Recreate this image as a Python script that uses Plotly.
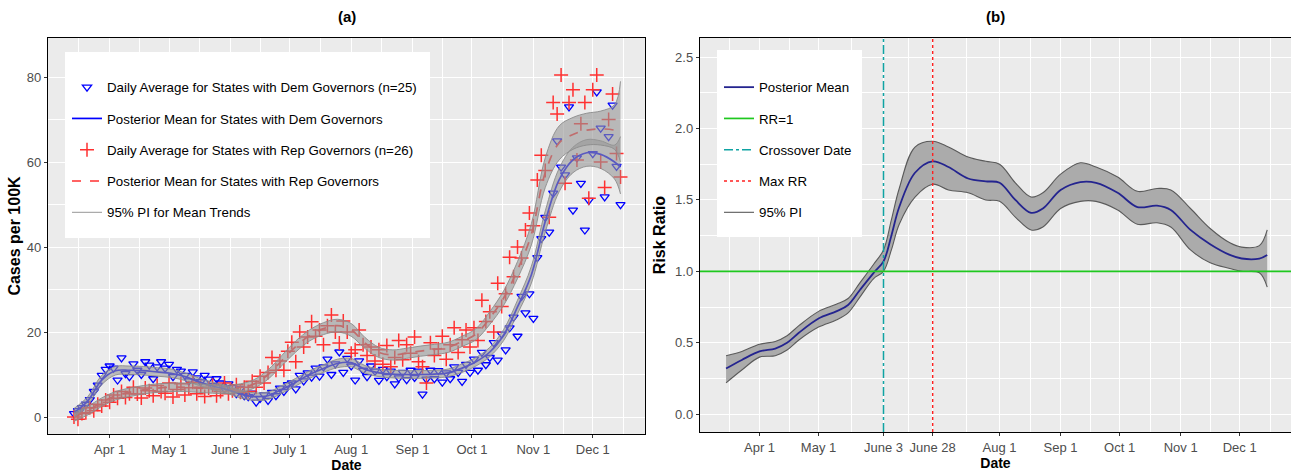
import pandas as pd
import plotly.graph_objects as go

# ---------- panel (a): cases per 100K ----------
# daily averages, read every second day starting 2020-03-14
obs_start = "2020-03-14"
obs_step_days = 2
dem_daily = [
    0.8, 1.5, 2.2, 3.0, 4.1, 6.0, 7.5, 9.8, 11.2,                                      # Mar
    12.0, 11.5, 8.7, 13.9, 10.2, 9.5, 12.5, 11.0, 10.0, 13.0, 12.2, 9.0, 11.8, 13.0, 11.5,  # Apr
    12.4, 9.5, 11.2, 10.8, 9.8, 8.5, 10.6, 9.2, 8.3, 9.8, 8.9, 7.4, 9.0, 8.0, 6.6, 7.8,     # May
    6.9, 5.5, 6.6, 5.0, 4.8, 5.6, 3.5, 4.4, 5.2, 3.9, 5.8, 5.0, 6.8, 6.0, 7.6,          # Jun
    8.0, 6.6, 9.8, 8.5, 10.4, 9.4, 11.5, 9.6, 11.8, 13.6, 10.0, 12.5, 15.3, 10.5, 13.8,  # Jul
    12.0, 8.7, 13.2, 11.0, 9.5, 12.0, 10.8, 8.6, 11.2, 9.5, 10.8, 7.8, 9.2, 10.5, 8.8, 11.0,  # Aug
    9.3, 10.8, 5.4, 8.9, 11.0, 9.0, 10.9, 8.2, 10.4, 9.0, 11.8, 10.5, 8.4, 12.4, 10.5,   # Sep
    13.6, 11.0, 15.2, 12.3, 14.0, 17.5, 13.4, 19.5, 15.8, 21.0, 23.5, 19.0, 28.4, 24.5, 29.0,  # Oct
    23.2, 37.5, 42.0, 47.0, 43.5, 52.7, 65.0, 58.8, 57.0, 73.0, 48.7, 61.0, 55.0, 44.0, 51.0,  # Nov
    62.0, 76.5, 68.0, 51.8, 66.0, 73.4, 59.0, 50.0,                                     # Dec
]
rep_daily = [
    0.0, -0.5, 0.8, 1.0, 2.2, 1.5, 3.0, 2.6, 4.0,
    3.5, 5.2, 4.4, 6.0, 4.6, 5.5, 7.0, 5.4, 4.5, 6.8, 6.2, 5.0, 7.4, 6.0, 5.6,
    8.0, 4.7, 6.5, 7.8, 5.2, 6.9, 8.2, 5.5, 7.0, 4.8, 6.8, 7.5, 5.0, 6.0, 8.0, 5.5,
    6.2, 7.6, 5.8, 7.0, 6.0, 8.4, 7.0, 9.6, 8.0, 10.5, 14.0, 11.0, 13.2, 11.0, 15.5,
    17.6, 13.0, 20.0, 16.5, 18.8, 22.4, 19.0, 20.5, 17.0, 21.5, 24.0, 20.0, 17.4, 22.6, 20.0,
    15.0, 15.8, 20.5, 17.0, 14.5, 16.5, 13.2, 15.8, 12.4, 16.8, 11.8, 14.0, 18.0, 13.5, 17.0, 15.0,
    18.8, 13.0, 11.8, 8.0, 17.5, 14.5, 16.0, 19.0, 13.6, 17.0, 21.0, 15.2, 18.2, 20.5, 16.5,
    21.0, 18.0, 27.5, 22.5, 24.8, 20.0, 31.5, 26.0, 29.0, 37.6, 33.0, 40.0, 37.4, 44.0, 48.0,
    45.0, 55.8, 61.6, 58.0, 47.0, 74.0, 71.3, 80.5, 55.0, 74.0, 77.0, 60.5, 69.0, 74.0, 51.5,
    77.0, 80.5, 60.0, 54.0, 70.0, 76.0, 62.0, 56.5,
]

# posterior means and 95% PI, read weekly from 2020-03-14 plus the last day
trend_dates = list(pd.date_range("2020-03-14", "2020-12-12", freq="7D")) + [pd.Timestamp("2020-12-15")]
dem_mean = [1.0, 3.8, 8.7, 10.9, 11.0, 10.9, 10.6, 10.3, 9.5, 8.3, 7.3, 6.5, 5.4, 4.8, 5.0, 6.5,
            8.2, 10.0, 11.4, 12.6, 12.8, 11.2, 10.4, 10.1, 10.0, 10.0, 10.1, 10.4, 11.5, 13.0,
            15.3, 19.3, 25.9, 33.5, 46.0, 55.8, 60.5, 62.2, 61.8, 60.0, 58.8]
dem_lo = [0.0, 2.8, 7.6, 9.9, 10.0, 9.9, 9.6, 9.3, 8.6, 7.4, 6.4, 5.6, 4.5, 3.9, 4.1, 5.6,
          7.3, 9.1, 10.5, 11.6, 11.8, 10.3, 9.5, 9.2, 9.1, 9.1, 9.2, 9.5, 10.5, 12.0,
          14.2, 18.0, 24.3, 31.5, 43.5, 53.0, 57.5, 59.0, 58.5, 56.0, 52.5]
dem_hi = [2.0, 4.8, 9.8, 11.9, 12.0, 11.9, 11.6, 11.3, 10.4, 9.2, 8.2, 7.4, 6.3, 5.7, 5.9, 7.4,
          9.1, 10.9, 12.3, 13.6, 13.8, 12.1, 11.3, 11.0, 10.9, 10.9, 11.0, 11.3, 12.5, 14.0,
          16.4, 20.6, 27.5, 35.5, 48.5, 58.5, 63.5, 65.3, 65.0, 64.0, 66.0]
rep_mean = [0.0, 1.5, 3.5, 5.0, 5.8, 6.4, 6.8, 7.0, 7.0, 6.8, 6.6, 6.5, 6.8, 7.8, 10.0, 13.3,
            16.6, 19.2, 20.8, 21.5, 20.5, 17.4, 15.2, 14.6, 15.0, 15.5, 15.9, 16.4, 17.8, 19.5,
            23.3, 28.0, 34.6, 43.0, 57.5, 64.5, 66.5, 67.5, 67.8, 67.5, 67.0]
rep_lo = [-1.0, 0.5, 2.5, 4.0, 4.8, 5.4, 5.8, 6.0, 6.0, 5.8, 5.6, 5.5, 5.8, 6.8, 8.9, 12.1,
          15.3, 17.9, 19.4, 20.0, 19.0, 16.1, 14.0, 13.4, 13.8, 14.3, 14.7, 15.2, 16.6, 18.2,
          21.8, 26.3, 32.6, 40.5, 54.0, 60.5, 63.0, 64.0, 64.0, 63.0, 60.0]
rep_hi = [1.0, 2.5, 4.5, 6.0, 6.8, 7.4, 7.8, 8.0, 8.0, 7.8, 7.6, 7.5, 7.8, 8.8, 11.1, 14.5,
          17.9, 20.5, 22.2, 23.0, 22.0, 18.7, 16.4, 15.8, 16.2, 16.7, 17.1, 17.6, 19.0, 20.8,
          24.8, 29.7, 36.6, 45.5, 61.0, 68.5, 70.5, 71.5, 72.0, 73.5, 79.0]

a_ticks = ["2020-04-01", "2020-05-01", "2020-06-01", "2020-07-01", "2020-08-01",
           "2020-09-01", "2020-10-01", "2020-11-01", "2020-12-01"]
a_labels = ["Apr 1", "May 1", "June 1", "July 1", "Aug 1", "Sep 1", "Oct 1", "Nov 1", "Dec 1"]
a_yticks = [0, 20, 40, 60, 80]

# ---------- panel (b): risk ratio ----------
rr_dates = ["2020-03-15", "2020-03-23", "2020-04-01", "2020-04-09", "2020-04-15", "2020-04-21",
            "2020-05-01", "2020-05-10", "2020-05-16", "2020-05-22", "2020-05-29", "2020-06-03",
            "2020-06-07", "2020-06-11", "2020-06-19", "2020-06-28", "2020-07-06", "2020-07-16",
            "2020-07-25", "2020-08-01", "2020-08-09", "2020-08-17", "2020-08-23", "2020-09-01",
            "2020-09-11", "2020-09-19", "2020-09-30", "2020-10-10", "2020-10-20", "2020-10-27",
            "2020-11-06", "2020-11-16", "2020-11-26", "2020-12-02", "2020-12-11", "2020-12-15"]
rr_mean = [0.32, 0.38, 0.44, 0.46, 0.50, 0.57, 0.67, 0.72, 0.765, 0.87, 0.99, 1.07,
           1.25, 1.45, 1.69, 1.77, 1.73, 1.65, 1.63, 1.62, 1.50, 1.41, 1.44, 1.57,
           1.625, 1.62, 1.55, 1.45, 1.46, 1.43, 1.29, 1.19, 1.115, 1.09, 1.09, 1.115]
rr_hi = [0.41, 0.44, 0.49, 0.51, 0.55, 0.62, 0.72, 0.77, 0.81, 0.92, 1.05, 1.15,
         1.36, 1.58, 1.87, 1.91, 1.87, 1.80, 1.77, 1.75, 1.62, 1.52, 1.55, 1.68,
         1.76, 1.73, 1.66, 1.56, 1.58, 1.57, 1.44, 1.30, 1.20, 1.17, 1.18, 1.29]
rr_lo = [0.22, 0.31, 0.40, 0.41, 0.45, 0.52, 0.61, 0.66, 0.71, 0.82, 0.95, 1.00,
         1.15, 1.33, 1.52, 1.61, 1.57, 1.55, 1.50, 1.49, 1.38, 1.29, 1.31, 1.44,
         1.49, 1.49, 1.43, 1.33, 1.34, 1.31, 1.15, 1.06, 1.02, 1.00, 0.99, 0.89]
rr_ref = 1.0
crossover_date = "2020-06-03"
max_rr_date = "2020-06-28"

b_ticks = ["2020-04-01", "2020-05-01", "2020-06-03", "2020-06-28", "2020-08-01",
           "2020-09-01", "2020-10-01", "2020-11-01", "2020-12-01"]
b_labels = ["Apr 1", "May 1", "June 3", "June 28", "Aug 1", "Sep 1", "Oct 1", "Nov 1", "Dec 1"]
b_yticks = [0.0, 0.5, 1.0, 1.5, 2.0, 2.5]

FONT = "Liberation Sans, Arial, sans-serif"
W, H = 1291, 476


def minor_dates(ticks):
    # ggplot style minor breaks: halfway between majors, one extra on each side
    t = list(pd.to_datetime(ticks))
    ext = [t[0] - pd.Timedelta(days=31)] + t + [t[-1] + pd.Timedelta(days=31)]
    return [a + (b - a) / 2 for a, b in zip(ext[:-1], ext[1:])]


def minor_values(ticks):
    step = ticks[1] - ticks[0]
    return [v + step / 2 for v in ticks[:-1]]


obs_dates = pd.date_range(obs_start, periods=len(dem_daily), freq=f"{obs_step_days}D")

fig = go.Figure()

# --- panel (a)
fig.add_trace(go.Scatter(
    x=obs_dates, y=dem_daily, mode="markers", xaxis="x", yaxis="y",
    name="Daily Average for States with Dem Governors (n=25)",
    marker=dict(symbol="triangle-down-open", size=8, color="#0000FF", line=dict(width=1.3)),
    legend="legend", legendgroup="a1", legendrank=1))
fig.add_trace(go.Scatter(
    x=obs_dates, y=rep_daily, mode="markers", xaxis="x", yaxis="y",
    name="Daily Average for States with Rep Governors (n=26)",
    marker=dict(symbol="cross-thin", size=10, color="#FF3030", line=dict(width=1.5, color="#FF3030")),
    legend="legend", legendgroup="a3", legendrank=3))
fig.add_trace(go.Scatter(
    x=trend_dates, y=dem_mean, mode="lines", xaxis="x", yaxis="y",
    name="Posterior Mean for States with Dem Governors",
    line=dict(color="#0000FF", width=1.7, shape="spline"),
    legend="legend", legendgroup="a2", legendrank=2))
fig.add_trace(go.Scatter(
    x=trend_dates, y=rep_mean, mode="lines", xaxis="x", yaxis="y",
    name="Posterior Mean for States with Rep Governors",
    line=dict(color="#FF3030", width=1.7, dash="dash", shape="spline"),
    legend="legend", legendgroup="a4", legendrank=4))
for i, (lo, hi) in enumerate([(dem_lo, dem_hi), (rep_lo, rep_hi)]):
    fig.add_trace(go.Scatter(
        x=trend_dates, y=lo, mode="lines", xaxis="x", yaxis="y",
        name="95% PI for Mean Trends", showlegend=(i == 0),
        line=dict(color="rgba(140,140,140,0.9)", width=1, shape="spline"),
        legend="legend", legendgroup="a5", legendrank=5))
    fig.add_trace(go.Scatter(
        x=trend_dates, y=hi, mode="lines", xaxis="x", yaxis="y",
        fill="tonexty", fillcolor="rgba(150,150,150,0.6)", showlegend=False,
        line=dict(color="rgba(140,140,140,0.9)", width=1, shape="spline"),
        legend="legend", legendgroup="a5"))

# --- panel (b)
fig.add_trace(go.Scatter(
    x=rr_dates, y=rr_lo, mode="lines", xaxis="x2", yaxis="y2", name="95% PI",
    line=dict(color="#5A5A5A", width=1.1, shape="spline"),
    legend="legend2", legendgroup="b5", legendrank=5))
fig.add_trace(go.Scatter(
    x=rr_dates, y=rr_hi, mode="lines", xaxis="x2", yaxis="y2", showlegend=False,
    fill="tonexty", fillcolor="#ABABAB",
    line=dict(color="#5A5A5A", width=1.1, shape="spline"),
    legend="legend2", legendgroup="b5"))
fig.add_trace(go.Scatter(
    x=rr_dates, y=rr_mean, mode="lines", xaxis="x2", yaxis="y2", name="Posterior Mean",
    line=dict(color="#24248F", width=1.8, shape="spline"),
    legend="legend2", legendgroup="b1", legendrank=1))

fig.add_shape(type="line", xref="x2 domain", x0=0, x1=1, yref="y2", y0=rr_ref, y1=rr_ref,
              line=dict(color="#1FC81F", width=1.7), name="RR=1", showlegend=True,
              legend="legend2", legendgroup="b2", legendrank=2)
fig.add_shape(type="line", xref="x2", x0=crossover_date, x1=crossover_date,
              yref="y2 domain", y0=0, y1=1,
              line=dict(color="#0FA3A3", width=1.5, dash="dashdot"), name="Crossover Date",
              showlegend=True, legend="legend2", legendgroup="b3", legendrank=3)
fig.add_shape(type="line", xref="x2", x0=max_rr_date, x1=max_rr_date,
              yref="y2 domain", y0=0, y1=1,
              line=dict(color="#FF2020", width=1.4, dash="dot"), name="Max RR",
              showlegend=True, legend="legend2", legendgroup="b4", legendrank=4)

# white legend boxes (ggplot legend background inside the panel)
for x0, x1, y0, y1 in [(65, 430, 52, 238), (717, 862, 50, 237)]:
    fig.add_shape(type="rect", xref="paper", yref="paper",
                  x0=x0 / W, x1=x1 / W, y0=1 - y1 / H, y1=1 - y0 / H,
                  fillcolor="white", line=dict(width=0), layer="above")

tick_font = dict(family=FONT, size=13, color="#4D4D4D")
xtitle_font = dict(family=FONT, size=14, color="black")
ytitle_font = dict(family=FONT, size=16, color="black")
legend_font = dict(family=FONT, size=13.3, color="black")
common_x = dict(type="date", showgrid=True, gridcolor="white", gridwidth=1.3,
                ticks="outside", ticklen=3, tickcolor="#333333", tickfont=tick_font,
                showline=True, linecolor="black", linewidth=1.4, mirror=True, zeroline=False)
common_y = dict(showgrid=True, gridcolor="white", gridwidth=1.3,
                ticks="outside", ticklen=3, tickcolor="#333333", tickfont=tick_font,
                showline=True, linecolor="black", linewidth=1.4, mirror=True, zeroline=False)

fig.update_layout(
    width=W, height=H,
    margin=dict(l=0, r=0, t=0, b=0),
    paper_bgcolor="white", plot_bgcolor="#EBEBEB",
    font=dict(family=FONT, size=13, color="black"),
    xaxis=dict(common_x, domain=[48 / W, 645 / W], anchor="y",
               range=["2020-02-29 21:00", "2020-12-27 09:00"],
               tickvals=a_ticks, ticktext=a_labels,
               minor=dict(tickvals=minor_dates(a_ticks), showgrid=True, gridcolor="white",
                          gridwidth=0.7, ticks=""),
               title=dict(text="<b>Date</b>", font=xtitle_font, standoff=1)),
    yaxis=dict(common_y, domain=[1 - 434 / H, 1 - 38 / H], anchor="x",
               range=[-4.0, 89.2], tickvals=a_yticks,
               minor=dict(tickvals=minor_values(a_yticks), showgrid=True, gridcolor="white",
                          gridwidth=0.7, ticks=""),
               title=dict(text="<b>Cases per 100K</b>", font=ytitle_font, standoff=2)),
    xaxis2=dict(common_x, domain=[700 / W, 1.0], anchor="y2",
                range=["2020-03-01 18:00", "2020-12-27 02:00"],
                tickvals=b_ticks, ticktext=b_labels,
                minor=dict(tickvals=minor_dates(b_ticks), showgrid=True, gridcolor="white",
                           gridwidth=0.7, ticks=""),
                title=dict(text="<b>Date</b>", font=xtitle_font, standoff=1)),
    yaxis2=dict(common_y, domain=[1 - 432 / H, 1 - 38 / H], anchor="x2",
                range=[-0.124, 2.633], tickvals=b_yticks, tickformat=".1f",
                minor=dict(tickvals=minor_values(b_yticks), showgrid=True, gridcolor="white",
                           gridwidth=0.7, ticks=""),
                title=dict(text="<b>Risk Ratio</b>", font=ytitle_font, standoff=5)),
    legend=dict(x=67 / W, y=1 - 72 / H, xanchor="left", yanchor="top",
                bgcolor="rgba(0,0,0,0)", traceorder="grouped", tracegroupgap=11,
                font=legend_font),
    legend2=dict(x=719 / W, y=1 - 72 / H, xanchor="left", yanchor="top",
                 bgcolor="rgba(0,0,0,0)", traceorder="grouped", tracegroupgap=11,
                 font=legend_font),
    annotations=[
        dict(text="<b>(a)</b>", xref="x domain", yref="paper", x=0.5, y=1 - 17 / H,
             yanchor="middle", showarrow=False, font=dict(family=FONT, size=15, color="black")),
        dict(text="<b>(b)</b>", xref="x2 domain", yref="paper", x=0.5, y=1 - 17 / H,
             yanchor="middle", showarrow=False, font=dict(family=FONT, size=15, color="black")),
    ],
)

# the page body has a default 8px margin; drop it so the figure fills the window
fig.write_html("out.html", config={"displayModeBar": False},
               post_script="document.body.style.margin = '0px';")
